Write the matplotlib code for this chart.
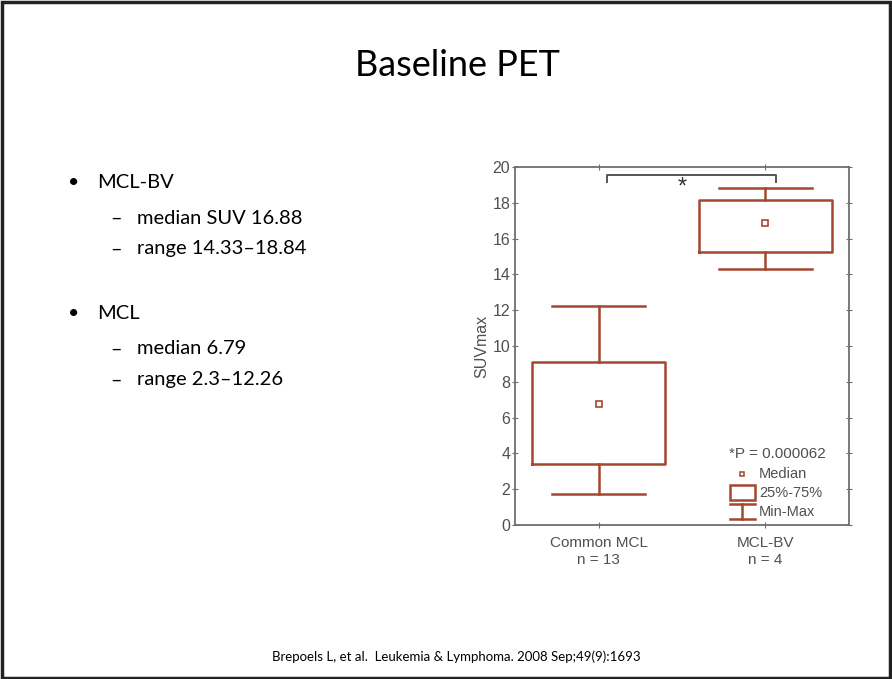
import matplotlib
matplotlib.use('Agg')
import matplotlib.pyplot as plt
from matplotlib.patches import Rectangle

# box plot summary
groups = ['Common MCL\nn = 13', 'MCL-BV\nn = 4']
mins = [1.73, 14.32]
q1s = [3.43, 15.23]
medians = [6.78, 16.86]
q3s = [9.09, 18.15]
maxs = [12.25, 18.82]

bullets = [
    ('MCL-BV', ['median SUV 16.88', 'range 14.33\u201318.84']),
    ('MCL', ['median 6.79', 'range 2.3\u201312.26']),
]

box_color = '#a4472f'
axis_color = '#6e6e6e'
text_gray = '#505050'
chart_font = 'Liberation Sans'
slide_font = 'Lato'

fig = plt.figure(figsize=(8.92, 6.79), dpi=100)
fig.patch.set_facecolor('white')

# slide frame
fig.add_artist(Rectangle((0.002, 0.002), 0.996, 0.995, transform=fig.transFigure,
                         fill=False, edgecolor='#222222', linewidth=2.5))

fig.text(0.513, 0.904, 'Baseline PET', ha='center', va='center',
         fontsize=26, family=slide_font, color='black')

# bullet list
y = 1 - 183 / 679
for head, subs in bullets:
    fig.text(68 / 892, y, '\u2022', ha='left', va='center', fontsize=14,
             family=slide_font)
    fig.text(97 / 892, y, head, ha='left', va='center', fontsize=14.5,
             family=slide_font)
    y -= 35 / 679
    for s in subs:
        fig.text(110 / 892, y, '\u2013', ha='left', va='center', fontsize=14.5,
                 family=slide_font)
        fig.text(137 / 892, y, s, ha='left', va='center', fontsize=14.5,
                 family=slide_font)
        y -= 31 / 679
    y -= 34 / 679

fig.text(0.512, 1 - 657 / 679,
         'Brepoels L, et al.  Leukemia & Lymphoma. 2008 Sep;49(9):1693',
         ha='center', va='center', fontsize=9.5, family=slide_font)

# chart
ax = fig.add_axes([515 / 892, 1 - 525 / 679, 334 / 892, 358 / 679])
stats = []
for i in range(len(groups)):
    stats.append({'whislo': mins[i], 'q1': q1s[i], 'med': medians[i],
                  'q3': q3s[i], 'whishi': maxs[i]})
line_props = dict(color=box_color, linewidth=1.8)
ax.bxp(stats, positions=[1, 2], widths=0.8, capwidths=0.56, showfliers=False,
       boxprops=line_props, whiskerprops=line_props, capprops=line_props,
       medianprops=dict(visible=False))
ax.plot([1, 2], medians, linestyle='none', marker='s', markersize=4.5,
        markerfacecolor='white', markeredgecolor=box_color, markeredgewidth=1.2)

ax.set_xlim(0.5, 2.5)
ax.set_ylim(0, 20)
ax.set_yticks(range(0, 21, 2))
ax.set_xticks([1, 2])
ax.set_xticklabels(groups, fontsize=11, family=chart_font, color=text_gray,
                   linespacing=1.25)
for lab in ax.get_yticklabels():
    lab.set_fontsize(11.5)
    lab.set_family(chart_font)
ax.tick_params(axis='both', direction='inout', length=4, width=0.8,
               colors=axis_color, labelcolor=text_gray, top=True, right=True)
ax.tick_params(axis='x', pad=6)
ax.tick_params(axis='y', pad=1.5)
for sp in ax.spines.values():
    sp.set_color(axis_color)
    sp.set_linewidth(1.3)
ax.set_ylabel('SUVmax', fontsize=11.5, family=chart_font, color=text_gray,
              labelpad=2)

# significance bracket
ax.plot([1.05, 1.05, 2.06, 2.06], [19.18, 19.55, 19.55, 19.18], color='#555555',
        linewidth=1.4)
ax.text(1.5, 18.85, '*', ha='center', va='center', fontsize=17,
        family=chart_font, color='#333333')

# legend drawn in data space
ax.text(1.78, 3.95, '*P = 0.000062', ha='left', va='center', fontsize=11,
        family=chart_font, color=text_gray)
ax.plot([1.86], [2.85], linestyle='none', marker='s', markersize=3.5,
        markerfacecolor='white', markeredgecolor=box_color, markeredgewidth=1.1)
ax.text(1.96, 2.85, 'Median', ha='left', va='center', fontsize=10.5,
        family=chart_font, color=text_gray)
ax.add_patch(Rectangle((1.79, 1.4), 0.145, 0.85, fill=False,
                       edgecolor=box_color, linewidth=1.8))
ax.text(1.96, 1.8, '25%-75%', ha='left', va='center', fontsize=10.5,
        family=chart_font, color=text_gray)
ax.plot([1.79, 1.935], [1.15, 1.15], color=box_color, linewidth=1.8)
ax.plot([1.79, 1.935], [0.35, 0.35], color=box_color, linewidth=1.8)
ax.plot([1.862, 1.862], [1.15, 0.35], color=box_color, linewidth=1.8)
ax.text(1.96, 0.75, 'Min-Max', ha='left', va='center', fontsize=10.5,
        family=chart_font, color=text_gray)

fig.savefig('out.png', dpi=100)
